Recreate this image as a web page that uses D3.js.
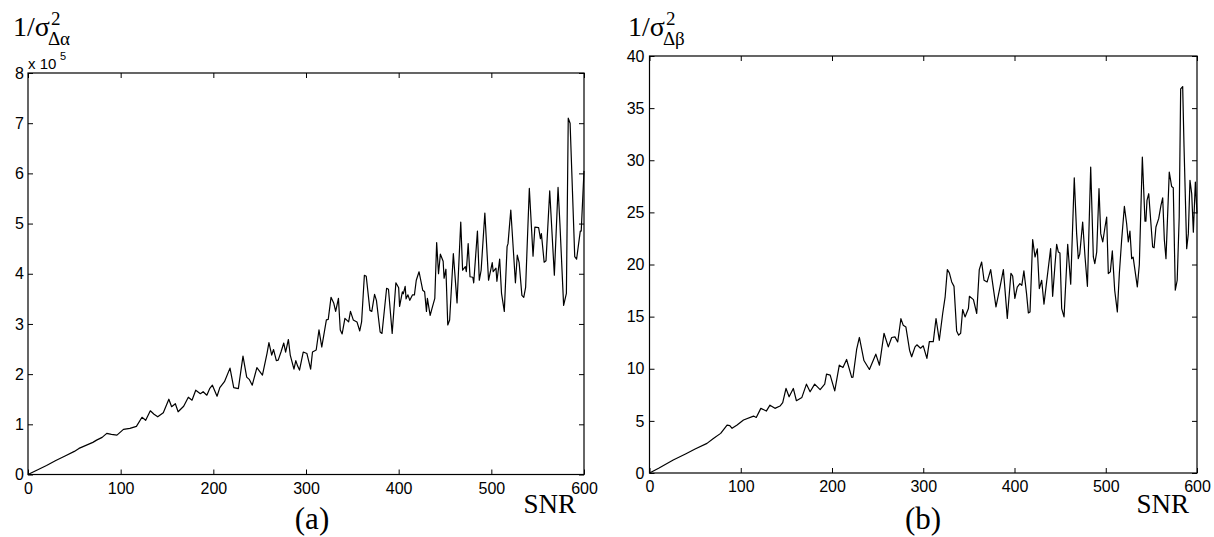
<!DOCTYPE html>
<html>
<head>
<meta charset="utf-8">
<title>1/sigma^2 vs SNR</title>
<script src="https://cdn.jsdelivr.net/npm/d3@7"></script>
<style>
  body { margin: 0; background: #fff; }
  .tick text { font-family: "Liberation Sans", Arial, sans-serif; font-size: 16px; fill: #000; }
  .serif { font-family: "Liberation Serif", "Times New Roman", serif; fill: #000; }
</style>
</head>
<body>
<svg id="chart" width="1214" height="537"></svg>
<script>
// tick labels
var xTicks = [0, 100, 200, 300, 400, 500, 600];
var yTicksA = [0, 1, 2, 3, 4, 5, 6, 7, 8];          // x 10^5
var yTicksB = [0, 5, 10, 15, 20, 25, 30, 35, 40];

// panel (a): 1/sigma^2 of delta alpha, in units of 1e5
var snrA = [0,10,20,30,40,50,55,60,65,70,74,80,85,90,96,103,110,117,123,127,132,136,140,146,152,155,159,162,168,173,177,181,186,189,193,196,199,204,207,212,218,222,227,232,236,239,242,247,253,258,260,263,265,268,270,273,276,278,281,283,287,289,291,293,297,301,305,307,311,314,317,322,324,327,330,332,335,337,339,342,346,348,351,355,358,360,363,365,369,371,374,376,380,382,387,389,393,397,400,401,404,405,407,408,410,412,415,417,419,422,426,428,430,431,434,436,439,441,443,445,448,449,451,453,455,459,463,467,469,472,473,475,477,480,481,485,487,489,493,497,501,502,505,506,509,511,514,517,518,521,524,526,528,530,533,535,537,541,545,547,551,553,554,557,559,563,568,572,574,578,581,583,585,590,592,596,597,600];
var valA = [0,0.09,0.18,0.28,0.37,0.46,0.52,0.56,0.6,0.64,0.685,0.74,0.82,0.8,0.785,0.9,0.92,0.96,1.14,1.08,1.27,1.2,1.15,1.23,1.5,1.35,1.41,1.25,1.36,1.54,1.48,1.68,1.61,1.65,1.58,1.71,1.78,1.56,1.73,1.85,2.12,1.73,1.71,2.36,1.94,1.89,1.78,2.13,1.98,2.42,2.63,2.38,2.49,2.27,2.28,2.44,2.62,2.44,2.69,2.38,2.1,2.27,2.16,2.08,2.44,2.41,2.1,2.44,2.48,2.88,2.54,3.08,3.09,3.53,3.41,3.25,3.51,2.88,2.8,3.11,3.04,3.25,3.08,3.04,2.86,3.04,3.97,3.95,3.27,3.25,3.59,3.47,2.84,2.81,3.71,3.69,2.81,3.82,3.72,3.35,3.64,3.6,3.75,3.5,3.58,3.47,3.58,3.58,3.87,4.04,3.67,3.64,3.25,3.51,3.17,3.31,3.51,4.62,4.0,4.39,4.25,3.91,4.09,2.98,3.08,4.4,3.42,5.03,4.07,4.14,4.04,4.6,3.94,3.93,3.82,4.85,3.87,4.07,5.21,3.87,4.22,4.04,4.11,3.85,4.29,3.61,3.25,4.54,4.6,5.27,4.4,3.82,4.37,4.22,3.57,3.53,3.73,5.7,4.35,4.93,4.92,4.7,4.8,4.23,4.26,5.65,3.97,5.72,5.0,3.37,3.61,7.1,7.0,4.34,4.29,4.85,4.85,6.05];

// panel (b): 1/sigma^2 of delta beta
var snrB = [0,10,26,40,50,63,70,78,85,88,90.5,96,103,114,117,122,128,132,137.5,143,146,149.6,153,157.6,161,167,172,176,181,187,192,194,198,203,208,212,216,221.6,223,227,230,235,241,248,252,257,261.7,265.4,269,272,275.5,278,281,285,287.3,291,293,297,300,304,306.7,311,314,317.6,321.3,324,326.4,328.6,331.2,333.7,336.6,338.8,341,343.2,345.8,349.5,350.6,355,358.6,361.4,364,366.6,370,373.9,379.7,384.1,387.8,392.1,396.1,398,400.4,403,405.9,408,410.3,413.2,415.2,417,419.9,422.5,425,427.2,429.8,432.3,435.2,439.6,441.8,444.4,446.2,448,449.8,451.7,454.3,458.3,461.6,465.5,468.1,469.9,471.5,474.7,477.3,479.9,483.5,486.4,488,490.1,492.6,494.5,496.7,499.2,501,502.8,505,507.2,509.8,512.7,514.9,517.4,520.4,522.9,524.7,526.5,528.4,530,534.6,536.8,540.1,543,544,545.2,547.1,551.4,553,555,558,560.5,562.4,564.2,566,569.6,572.2,574,576.2,578.3,580.5,582.1,584.3,585.8,588.7,590.5,592.3,594.2,596,598.2,600];
var valB = [0,0.45,1.25,1.85,2.3,2.84,3.3,3.8,4.6,4.54,4.29,4.6,5.08,5.46,5.33,6.2,5.94,6.51,6.2,6.42,6.74,8.11,7.31,8.11,6.93,7.25,8.52,7.79,8.52,8.0,8.52,9.48,9.39,7.88,10.34,10.12,10.89,9.17,9.2,11.85,13.0,10.79,9.93,11.4,10.34,13.4,12.1,13.0,13.06,12.57,14.8,14.18,14.0,11.78,11.15,12.1,12.3,11.97,12.2,10.99,12.6,12.6,14.82,12.73,15.3,16.9,19.51,19.2,18.33,17.9,13.63,13.22,13.4,15.68,14.97,15.77,16.95,16.63,15.3,19.51,20.24,18.49,18.33,19.51,15.93,17.84,19.51,14.82,19.15,18.9,16.74,17.84,18.17,18.0,19.39,17.2,15.36,15.45,22.38,20.72,21.5,17.69,18.49,16.19,18.33,21.52,16.95,20.0,21.93,21.2,21.1,15.77,14.97,21.93,18.11,28.32,22.96,20.56,21.0,24.07,20.72,17.91,29.34,20.72,20.08,21.2,27.27,22.96,22.16,23.6,24.55,19.13,19.29,21.3,17.53,15.45,19.13,22.32,25.57,23.91,22.16,23.2,20.56,20.7,17.85,20.0,30.3,24.16,24.16,26.15,26.79,21.68,21.6,23.6,24.4,25.67,26.4,22.38,20.56,28.86,27.49,27.37,17.53,18.49,24.55,36.85,37.07,31.26,21.52,22.96,28.07,26.79,23.1,27.9,24.88];

var svg = d3.select("#chart");

function drawPanel(p) {
  var x = d3.scaleLinear().domain([0, 600]).range([p.left, p.right]);
  var y = d3.scaleLinear().domain([0, p.yMax]).range([p.bottom, p.top]);
  var g = svg.append("g");

  // ticks on all four sides, pointing inward
  g.append("g").attr("transform", "translate(0," + p.bottom + ")")
    .call(d3.axisBottom(x).tickValues(xTicks).tickSize(-5).tickPadding(8))
    .call(function(a){ a.select(".domain").remove(); });
  g.append("g").attr("transform", "translate(0," + p.top + ")")
    .call(d3.axisTop(x).tickValues(xTicks).tickSize(-5).tickFormat(""))
    .call(function(a){ a.select(".domain").remove(); });
  g.append("g").attr("transform", "translate(" + p.left + ",0)")
    .call(d3.axisLeft(y).tickValues(p.yTicks).tickSize(-5).tickPadding(p.yPad))
    .call(function(a){ a.select(".domain").remove(); });
  g.append("g").attr("transform", "translate(" + p.right + ",0)")
    .call(d3.axisRight(y).tickValues(p.yTicks).tickSize(-5).tickFormat(""))
    .call(function(a){ a.select(".domain").remove(); });
  g.selectAll(".tick line").attr("stroke", "#000");

  g.append("rect")
    .attr("x", p.left).attr("y", p.top)
    .attr("width", p.right - p.left).attr("height", p.bottom - p.top)
    .attr("fill", "none").attr("stroke", "#000").attr("stroke-width", 1.2);

  var line = d3.line()
    .x(function(d){ return x(d[0]); })
    .y(function(d){ return y(d[1]); });
  g.append("path")
    .datum(d3.zip(p.snr, p.vals))
    .attr("d", line)
    .attr("fill", "none").attr("stroke", "#000").attr("stroke-width", 1.2)
    .attr("stroke-linejoin", "round");

  // y label 1/sigma^2 with subscript
  var t = g.append("text").attr("class", "serif")
    .attr("x", p.titleX).attr("y", 36).attr("font-size", 28).text("1/\u03c3");
  var w = t.node().getComputedTextLength();
  g.append("text").attr("class", "serif")
    .attr("x", p.titleX + w + 1).attr("y", 25).attr("font-size", 19).text("2");
  g.append("text").attr("class", "serif")
    .attr("x", p.titleX + w - 2).attr("y", 45).attr("font-size", 19).text(p.sub);

  g.append("text").attr("class", "serif")
    .attr("x", x(600) - 8).attr("y", 513).attr("text-anchor", "end")
    .attr("font-size", 27).text("SNR");

  g.append("text").attr("class", "serif")
    .attr("x", p.capX).attr("y", 529).attr("text-anchor", "middle")
    .attr("font-size", 31).text(p.caption);
  return g;
}

var ga = drawPanel({ left: 28, right: 584, top: 73, bottom: 474.5, yMax: 8, yTicks: yTicksA,
  yPad: 4, snr: snrA, vals: valA, titleX: 13, sub: "\u0394\u03b1", caption: "(a)", capX: 312 });
drawPanel({ left: 649.5, right: 1197, top: 56, bottom: 473, yMax: 40, yTicks: yTicksB,
  yPad: 5, snr: snrB, vals: valB, titleX: 628, sub: "\u0394\u03b2", caption: "(b)", capX: 923 });

// exponent label of panel (a)
ga.append("text").attr("x", 28).attr("y", 69)
  .attr("font-family", "Liberation Sans, Arial, sans-serif").attr("font-size", 15).text("x 10");
ga.append("text").attr("x", 60).attr("y", 60)
  .attr("font-family", "Liberation Sans, Arial, sans-serif").attr("font-size", 11).text("5");
</script>
</body>
</html>
